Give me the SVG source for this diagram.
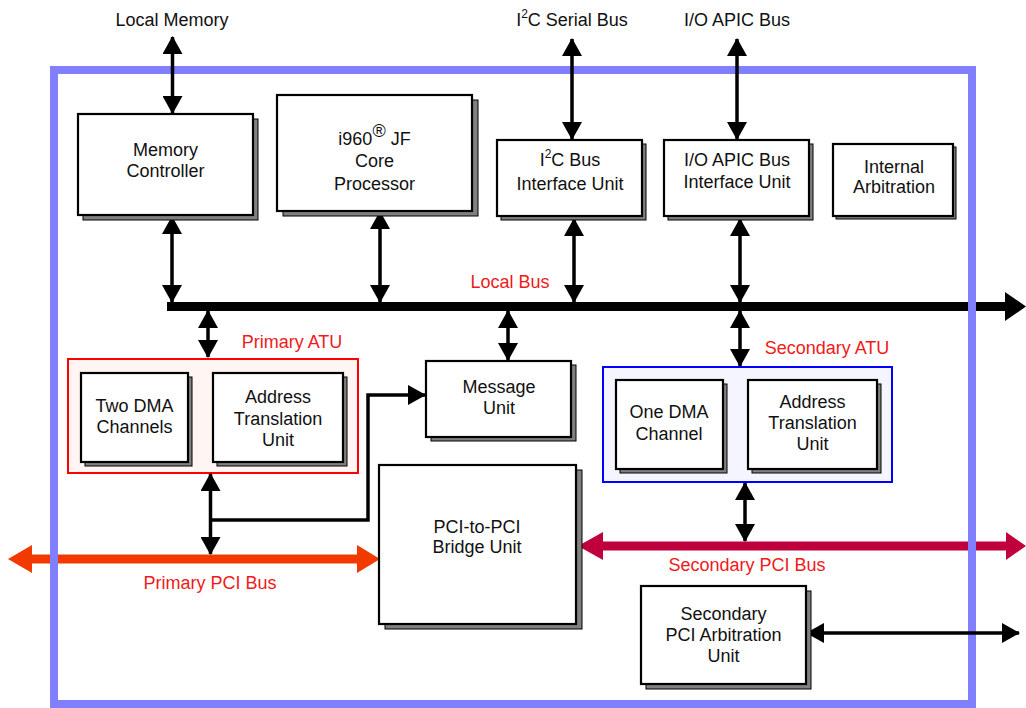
<svg xmlns="http://www.w3.org/2000/svg" width="1026" height="708" viewBox="0 0 1026 708">
<style>
  text { font-family: "Liberation Sans", Arial, Helvetica, sans-serif; font-size: 18px; fill: #111; text-anchor: middle; }
  text.lbl { fill: #f01a1a; }
  .box { fill: #fff; stroke: #000; stroke-width: 2.2; }
  .shadow { fill: #808080; stroke: #000; stroke-width: 1; }
  .conn { fill: none; stroke: #000; stroke-width: 3.5; }
  .frame { fill: none; stroke: #8080ff; stroke-width: 8; }
</style>
<defs>
  <marker id="ah" viewBox="0 0 18 20" refX="17" refY="10" markerWidth="18" markerHeight="20" markerUnits="userSpaceOnUse" orient="auto-start-reverse">
    <path d="M0,0 L18,10 L0,20 Z" fill="#000"/>
  </marker>
</defs>
<rect width="1026" height="708" fill="#fff"/>

<!-- Buses -->
<g id="buses">
  <path id="local-bus" d="M167,302 L1005,302 L1005,292 L1026,306.5 L1005,321 L1005,311 L167,311 Z" fill="#000"/>
  <path id="primary-pci-bus" d="M8,559 L32,545 L32,554.5 L357,554.5 L357,545 L380,559 L357,573 L357,563.5 L32,563.5 L32,573 Z" fill="#f23a00"/>
  <path id="secondary-pci-bus" d="M578,546 L603,532 L603,541.5 L1006,541.5 L1006,532 L1026,546 L1006,560 L1006,550.5 L603,550.5 L603,560 Z" fill="#c0003c"/>
</g>

<!-- Chip frame -->
<rect id="frame" class="frame" x="54" y="70" width="918" height="634"/>

<!-- ATU groups -->
<g id="primary-atu">
  <rect x="68" y="359" width="290" height="114" fill="#fff5f3" stroke="#f00" stroke-width="2"/>
  <text class="lbl" x="292" y="348">Primary ATU</text>
</g>
<g id="secondary-atu">
  <rect x="603" y="367" width="289" height="115" fill="#f5f5ff" stroke="#00f" stroke-width="2"/>
  <text class="lbl" x="827" y="354">Secondary ATU</text>
</g>

<!-- Connectors -->
<g id="connectors">
  <line class="conn" x1="172.5" y1="37" x2="172.5" y2="113" marker-start="url(#ah)" marker-end="url(#ah)"/>
  <line class="conn" x1="572" y1="39" x2="572" y2="139" marker-start="url(#ah)" marker-end="url(#ah)"/>
  <line class="conn" x1="737" y1="39" x2="737" y2="139" marker-start="url(#ah)" marker-end="url(#ah)"/>
  <line class="conn" x1="172" y1="217" x2="172" y2="302" marker-start="url(#ah)" marker-end="url(#ah)"/>
  <line class="conn" x1="380" y1="212" x2="380" y2="302" marker-start="url(#ah)" marker-end="url(#ah)"/>
  <line class="conn" x1="574" y1="219" x2="574" y2="302" marker-start="url(#ah)" marker-end="url(#ah)"/>
  <line class="conn" x1="740" y1="219" x2="740" y2="302" marker-start="url(#ah)" marker-end="url(#ah)"/>
  <line class="conn" x1="208" y1="311" x2="208" y2="357" marker-start="url(#ah)" marker-end="url(#ah)"/>
  <line class="conn" x1="508" y1="311" x2="508" y2="360" marker-start="url(#ah)" marker-end="url(#ah)"/>
  <line class="conn" x1="740" y1="311" x2="740" y2="366" marker-start="url(#ah)" marker-end="url(#ah)"/>
  <line class="conn" x1="210.5" y1="474" x2="210.5" y2="554" marker-start="url(#ah)" marker-end="url(#ah)"/>
  <polyline class="conn" points="210.5,520 368,520 368,395 425,395" marker-end="url(#ah)"/>
  <line class="conn" x1="745" y1="483" x2="745" y2="541" marker-start="url(#ah)" marker-end="url(#ah)"/>
  <line class="conn" x1="807" y1="633" x2="1019" y2="633" marker-start="url(#ah)" marker-end="url(#ah)"/>
</g>

<!-- External labels -->
<g id="external-labels">
  <text x="172" y="26">Local Memory</text>
  <text x="572" y="26">I<tspan font-size="12" dy="-8">2</tspan><tspan dy="8">C Serial Bus</tspan></text>
  <text x="737" y="26">I/O APIC Bus</text>
  <text class="lbl" x="510" y="288">Local Bus</text>
  <text class="lbl" x="210" y="589">Primary PCI Bus</text>
  <text class="lbl" x="747" y="571">Secondary PCI Bus</text>
</g>

<!-- Nodes -->
<g id="memory-controller">
  <rect class="shadow" x="83" y="119" width="175" height="101"/>
  <rect class="box" x="78" y="114" width="175" height="101"/>
  <text x="165.5" y="156">Memory</text>
  <text x="165.5" y="177">Controller</text>
</g>
<g id="i960-core">
  <rect class="shadow" x="283" y="100" width="195" height="116"/>
  <rect class="box" x="277" y="95" width="195" height="116"/>
  <text x="374.5" y="145">i960<tspan dy="-8">®</tspan><tspan dy="8"> JF</tspan></text>
  <text x="374.5" y="167">Core</text>
  <text x="374.5" y="190">Processor</text>
</g>
<g id="i2c-unit">
  <rect class="shadow" x="501" y="144" width="145" height="76"/>
  <rect class="box" x="497" y="140" width="145" height="76"/>
  <text x="570" y="166">I<tspan font-size="12" dy="-8">2</tspan><tspan dy="8">C Bus</tspan></text>
  <text x="570" y="190">Interface Unit</text>
</g>
<g id="ioapic-unit">
  <rect class="shadow" x="668" y="144" width="145" height="76"/>
  <rect class="box" x="664" y="140" width="145" height="76"/>
  <text x="737" y="166">I/O APIC Bus</text>
  <text x="737" y="188">Interface Unit</text>
</g>
<g id="internal-arbitration">
  <rect class="shadow" x="836" y="147" width="120" height="72"/>
  <rect class="box" x="833" y="144" width="120" height="72"/>
  <text x="894" y="173">Internal</text>
  <text x="894" y="193">Arbitration</text>
</g>
<g id="two-dma">
  <rect class="shadow" x="85" y="377" width="107" height="89"/>
  <rect class="box" x="81" y="373" width="107" height="89"/>
  <text x="134.5" y="412">Two DMA</text>
  <text x="134.5" y="433">Channels</text>
</g>
<g id="primary-atu-unit">
  <rect class="shadow" x="217" y="377" width="130" height="89"/>
  <rect class="box" x="213" y="373" width="130" height="89"/>
  <text x="278" y="403">Address</text>
  <text x="278" y="425">Translation</text>
  <text x="278" y="446">Unit</text>
</g>
<g id="message-unit">
  <rect class="shadow" x="431" y="365" width="145" height="76"/>
  <rect class="box" x="426" y="361" width="145" height="76"/>
  <text x="499" y="393">Message</text>
  <text x="499" y="414">Unit</text>
</g>
<g id="one-dma">
  <rect class="shadow" x="620" y="384" width="107" height="89"/>
  <rect class="box" x="616" y="380" width="107" height="89"/>
  <text x="669" y="418">One DMA</text>
  <text x="669" y="440">Channel</text>
</g>
<g id="secondary-atu-unit">
  <rect class="shadow" x="752" y="384" width="129" height="89"/>
  <rect class="box" x="748" y="380" width="129" height="89"/>
  <text x="812.5" y="408">Address</text>
  <text x="812.5" y="429">Translation</text>
  <text x="812.5" y="450">Unit</text>
</g>
<g id="pci-bridge">
  <rect class="shadow" x="385" y="470" width="197" height="159"/>
  <rect class="box" x="379" y="465" width="197" height="159"/>
  <text x="477" y="533">PCI-to-PCI</text>
  <text x="477" y="553">Bridge Unit</text>
</g>
<g id="secondary-pci-arbitration">
  <rect class="shadow" x="646" y="591" width="165" height="98"/>
  <rect class="box" x="641" y="586" width="165" height="98"/>
  <text x="723.5" y="620">Secondary</text>
  <text x="723.5" y="641">PCI Arbitration</text>
  <text x="723.5" y="662">Unit</text>
</g>
</svg>
